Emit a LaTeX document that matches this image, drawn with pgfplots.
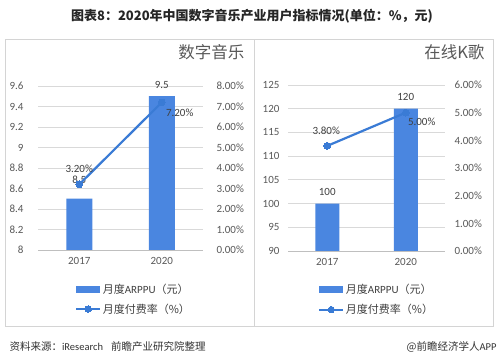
\documentclass[border=0pt]{standalone}
\usepackage{fontspec}
\setmainfont{Carlito}
\newfontfamily\cjk{Noto Sans CJK SC}
\usepackage{pgfplots}
\usepackage{pgfplotstable}
\pgfplotsset{compat=1.18}
\definecolor{barblue}{HTML}{4A86E0}
\definecolor{lineblue}{HTML}{3A7BD5}
\definecolor{gridgray}{HTML}{D9D9D9}
\definecolor{axgray}{HTML}{BFBFBF}
\definecolor{txtgray}{HTML}{595959}
\definecolor{lblgray}{HTML}{404040}
\definecolor{framegray}{HTML}{D4D4D4}

\pgfplotstableread{
x val dy
0 8.5 19
1 9.5 11
}\musicbar
\pgfplotstableread{
x val dx dy
0 3.2 0 16
1 7.2 18 -10
}\musicrate
\pgfplotstableread{
x val dy
0 100 12
1 120 12
}\ktvbar
\pgfplotstableread{
x val dx dy
0 3.8 -1 15
1 5.0 16 -9
}\ktvrate

\pgfplotsset{
  base/.style={
    scale only axis,
    xmin=-0.5, xmax=1.5,
    tick style={draw=none},
    ticklabel style={font=\fontsize{11}{13}\selectfont, text=txtgray},
    /pgf/number format/assume math mode=true,
  },
  barax/.style={
    base,
    axis x line*=bottom, axis y line*=left,
    x axis line style={draw=axgray, line width=0.8pt},
    y axis line style={draw=none},
    xtick={0,1}, xticklabels={2017,2020},
    xticklabel style={yshift=-4pt},
    ymajorgrids, grid style={gridgray, line width=0.75pt},
    clip mode=individual,
    legend style={draw=none, fill=none, inner sep=0pt, row sep=6pt,
      font=\fontsize{11}{13}\selectfont, text=lblgray,
      nodes={inner sep=1.5pt}},
    legend cell align=left,
  },
  rateax/.style={
    base,
    axis x line=none, axis y line*=right,
    y axis line style={draw=none},
    xtick=\empty,
    ymin=0,
    yticklabel={\pgfmathprintnumber[fixed,fixed zerofill,precision=2]{\tick}\%},
  },
  barplot/.style={
    ybar, fill=barblue, draw=none,
    legend image code/.code={\fill[barblue] (0pt,-3.5pt) rectangle (24pt,3.5pt);},
    visualization depends on={\thisrow{dy} \as \dy},
    nodes near coords,
    nodes near coords style={anchor=center, yshift=\dy pt, font=\fontsize{11}{13}\selectfont, text=lblgray},
  },
  lineplot/.style={
    lineblue, line width=2.2pt, mark=*, mark size=3.4pt,
    mark options={fill=lineblue, draw=lineblue, line width=0pt},
  },
  linelegend/.style={
    lineblue, line width=2.2pt, mark=*, mark size=3.2pt,
    mark options={fill=lineblue, draw=lineblue, line width=0pt},
    legend image code/.code={\draw[mark repeat=2,mark phase=2,##1] plot coordinates {(0pt,0pt) (12pt,0pt) (24pt,0pt)};},
  },
  ratelabels/.style={
    visualization depends on={\thisrow{dx} \as \dx},
    visualization depends on={\thisrow{dy} \as \dy},
    nodes near coords={\pgfmathprintnumber[fixed,fixed zerofill,precision=2]{\pgfplotspointmeta}\%},
    nodes near coords style={anchor=center, xshift=\dx pt, yshift=\dy pt, font=\fontsize{11}{13}\selectfont, text=lblgray},
  },
}

\begin{document}
\begin{tikzpicture}[x=1pt,y=1pt]
\useasboundingbox (0,0) rectangle (500,363);
\fill[white] (0,0) rectangle (500,363);

% title
\node[font=\cjk\bfseries\fontsize{13}{15}\selectfont, text=black!85] at (252,347) {图表8：2020年中国数字音乐产业用户指标情况(单位：\%，元)};

% panel frames
\draw[framegray, line width=0.8pt] (5,37) rectangle (254,324);
\draw[framegray, line width=0.8pt] (254,37) rectangle (493,324);

% panel titles
\node[anchor=east, text=txtgray, font=\cjk\fontsize{16.5}{18}\selectfont] at (248,311) {数字音乐};
\node[anchor=east, text=txtgray, font=\cjk\fontsize{16.5}{18}\selectfont] at (488,311) {在线K歌};

% ---------- left panel ----------
\begin{axis}[barax, at={(38pt,113pt)}, anchor=south west, width=165pt, height=164pt,
  ymin=8, ymax=9.6, ytick={8,8.2,8.4,8.6,8.8,9,9.2,9.4,9.6},
  yticklabel style={xshift=-11pt},
  legend style={at={(rel axis cs:0.224,-0.195)}, anchor=north west}]
\addplot[barplot, bar width=26pt] table[x=x, y=val] {\musicbar};
\addlegendentry{{\cjk 月度}ARPPU{\cjk （元）}}
\addlegendimage{linelegend}
\addlegendentry{{\cjk 月度付费率（\%）}}
\end{axis}
\begin{axis}[rateax, at={(38pt,113pt)}, anchor=south west, width=165pt, height=164pt,
  ymax=8, ytick={0,1,2,3,4,5,6,7,8},
  yticklabel style={xshift=10pt}]
\addplot[lineplot, ratelabels] table[x=x, y=val] {\musicrate};
\end{axis}

% ---------- right panel ----------
\begin{axis}[barax, at={(288pt,112pt)}, anchor=south west, width=157pt, height=166pt,
  ymin=90, ymax=125, ytick={90,95,100,105,110,115,120,125},
  yticklabel style={xshift=-5pt},
  legend style={at={(rel axis cs:0.191,-0.19)}, anchor=north west}]
\addplot[barplot, bar width=24pt] table[x=x, y=val] {\ktvbar};
\addlegendentry{{\cjk 月度}ARPPU{\cjk （元）}}
\addlegendimage{linelegend}
\addlegendentry{{\cjk 月度付费率（\%）}}
\end{axis}
\begin{axis}[rateax, at={(288pt,112pt)}, anchor=south west, width=157pt, height=166pt,
  ymax=6, ytick={0,1,2,3,4,5,6},
  yticklabel style={xshift=6pt}]
\addplot[lineplot, ratelabels] table[x=x, y=val] {\ktvrate};
\end{axis}

% footer
\node[anchor=west, font=\fontsize{10.5}{12}\selectfont, text=black!80] at (6,16) {{\cjk 资料来源：}iResearch\hspace{8pt}{\cjk 前瞻产业研究院整理}};
\node[anchor=east, font=\fontsize{10.5}{12}\selectfont, text=black!80] at (500,16) {{\cjk @前瞻经济学人}APP};
\end{tikzpicture}
\end{document}
